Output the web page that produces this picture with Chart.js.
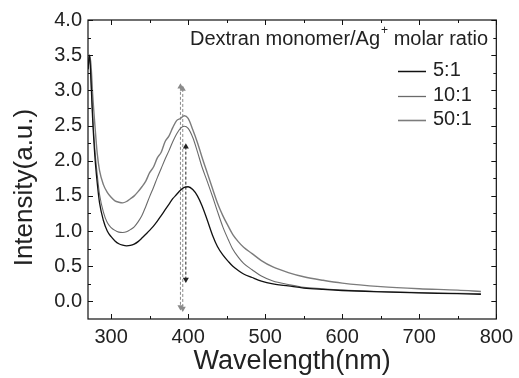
<!DOCTYPE html>
<html>
<head>
<meta charset="utf-8">
<script src="https://cdn.jsdelivr.net/npm/chart.js@4.4.0/dist/chart.umd.min.js"></script>
<style>
  body { margin: 0; background: #fff; }
  #wrap { width: 519px; height: 378px; }
</style>
</head>
<body>
<div id="wrap"><canvas id="myChart" width="519" height="378"></canvas></div>
<script>
// wavelength (nm)
const wavelength = [270, 272, 274, 276, 279, 282, 285, 290, 295, 300, 305, 310, 315, 320, 325, 330, 335, 340, 345, 350,
    355, 360, 365, 370, 375, 380, 385, 390, 395, 400, 406, 412, 418, 425, 432, 438, 445, 452, 458, 465,
    472, 483, 495, 510, 530, 550, 575, 600, 650, 700, 750, 780]

const ratio5 = [3.30, 3.50, 3.10, 2.60, 2.05, 1.68, 1.40, 1.15, 1.00, 0.92, 0.86, 0.82, 0.80, 0.79, 0.795, 0.815, 0.85, 0.90, 0.955, 1.01,
    1.07, 1.14, 1.22, 1.30, 1.38, 1.46, 1.52, 1.58, 1.62, 1.63, 1.59, 1.50, 1.36, 1.15, 0.93, 0.78, 0.66, 0.57, 0.50, 0.44,
    0.39, 0.34, 0.29, 0.25, 0.22, 0.19, 0.17, 0.155, 0.135, 0.12, 0.11, 0.10]

const ratio10 = [3.30, 3.50, 3.15, 2.65, 2.15, 1.80, 1.52, 1.27, 1.12, 1.05, 1.01, 0.985, 0.98, 0.99, 1.02, 1.06, 1.13, 1.22, 1.35, 1.49,
    1.62, 1.76, 1.89, 2.02, 2.14, 2.27, 2.38, 2.46, 2.49, 2.46, 2.33, 2.13, 1.91, 1.70, 1.48, 1.28, 1.06, 0.88, 0.74, 0.63,
    0.54, 0.45, 0.36, 0.29, 0.24, 0.20, 0.18, 0.16, 0.14, 0.125, 0.115, 0.11]

const ratio50 = [3.30, 3.50, 3.35, 2.95, 2.50, 2.10, 1.86, 1.66, 1.55, 1.48, 1.43, 1.41, 1.40, 1.42, 1.46, 1.50, 1.56, 1.63, 1.71, 1.83,
    1.91, 2.04, 2.12, 2.27, 2.35, 2.47, 2.57, 2.60, 2.64, 2.60, 2.44, 2.26, 2.05, 1.82, 1.59, 1.40, 1.22, 1.07, 0.95, 0.85,
    0.77, 0.68, 0.58, 0.49, 0.41, 0.35, 0.30, 0.26, 0.21, 0.18, 0.16, 0.14]

const seriesNames = ['5:1', '10:1', '50:1']

// dashed arrows
const arrowX = [390, 393, 397]
const arrowTop = [3.05, 3.02, 2.2]
const arrowBottom = [-0.08, -0.1, 0.31]

const xTicks = [300, 400, 500, 600, 700, 800]
const yTicks = [0.0, 0.5, 1.0, 1.5, 2.0, 2.5, 3.0, 3.5, 4.0]

const FONT = "'Liberation Sans', Arial, sans-serif"

function pts(ys) {
    return wavelength.map((x, i) => ({ x: x, y: ys[i] }))
}

const lineColors = ['#111', '#6a6a6a', '#7c7c7c']
const lineWidths = [1.3, 1.1, 1.4]

const datasets = [ratio5, ratio10, ratio50].map((ys, i) => ({
    label: seriesNames[i],
    data: pts(ys),
    borderColor: lineColors[i],
    borderWidth: lineWidths[i],
    pointRadius: 0,
    cubicInterpolationMode: 'monotone',
    fill: false
}))

const arrowColors = ['#8a8a8a', '#8a8a8a', '#222']
for (let i = 0; i < arrowX.length; i++) {
    datasets.push({
        label: 'arrow' + i,
        data: [{ x: arrowX[i], y: arrowTop[i] }, { x: arrowX[i], y: arrowBottom[i] }],
        borderColor: arrowColors[i],
        backgroundColor: arrowColors[i],
        borderWidth: 1,
        borderDash: [3, 2],
        pointStyle: 'triangle',
        pointRadius: 3.5,
        pointRotation: [0, 180],
        pointBorderWidth: 0,
        tension: 0
    })
}

// box, inward ticks and legend text
const framePlugin = {
    id: 'frame',
    afterDatasetsDraw(chart) {
        const ctx = chart.ctx
        const a = chart.chartArea
        const xs = chart.scales.x
        const ys = chart.scales.y
        ctx.save()
        ctx.strokeStyle = '#111'
        ctx.lineWidth = 1.2
        ctx.strokeRect(a.left, a.top, a.right - a.left, a.bottom - a.top)

        ctx.lineWidth = 1
        ctx.beginPath()
        for (let v = 300; v <= 800; v += 50) {
            const px = Math.round(xs.getPixelForValue(v)) + 0.5
            const len = v % 100 === 0 ? 5 : 3
            ctx.moveTo(px, a.bottom); ctx.lineTo(px, a.bottom - len)
            ctx.moveTo(px, a.top); ctx.lineTo(px, a.top + len)
        }
        for (let v = 0; v <= 4.0001; v += 0.25) {
            const py = Math.round(ys.getPixelForValue(v)) + 0.5
            const len = Math.abs(v * 2 - Math.round(v * 2)) < 0.01 ? 5 : 3
            ctx.moveTo(a.left, py); ctx.lineTo(a.left + len, py)
            ctx.moveTo(a.right, py); ctx.lineTo(a.right - len, py)
        }
        ctx.stroke()

        // legend
        ctx.fillStyle = '#222'
        ctx.textBaseline = 'middle'
        ctx.textAlign = 'left'
        ctx.font = '20px ' + FONT
        let tx = 190
        const part1 = 'Dextran monomer/Ag'
        ctx.fillText(part1, tx, 39)
        tx += ctx.measureText(part1).width
        ctx.font = '12px ' + FONT
        ctx.fillText('+', tx + 1, 31)
        tx += ctx.measureText('+').width + 1
        ctx.font = '20px ' + FONT
        ctx.fillText(' molar ratio', tx, 39)

        const ly = [70, 95, 119]
        for (let i = 0; i < 3; i++) {
            ctx.strokeStyle = lineColors[i]
            ctx.lineWidth = lineWidths[i] + 0.2
            ctx.beginPath()
            ctx.moveTo(398, ly[i] + 1.5)
            ctx.lineTo(426, ly[i] + 1.5)
            ctx.stroke()
            ctx.fillText(seriesNames[i], 433, ly[i])
        }
        ctx.restore()
    }
}

const ctx = document.getElementById('myChart').getContext('2d')
const myChart = new Chart(ctx, {
    type: 'line',
    data: { datasets: datasets },
    options: {
        responsive: false,
        animation: false,
        layout: { padding: { top: 20, right: 17, left: 0, bottom: 0 } },
        plugins: {
            legend: { display: false },
            tooltip: { enabled: false }
        },
        scales: {
            x: {
                type: 'linear',
                min: 270,
                max: 800,
                afterBuildTicks: (scale) => { scale.ticks = xTicks.map(v => ({ value: v })) },
                afterFit: (scale) => { scale.height = 59 },
                grid: { display: false, drawTicks: false },
                border: { display: false },
                ticks: {
                    padding: 6,
                    color: '#222',
                    font: { family: FONT, size: 20 },
                    maxRotation: 0
                },
                title: {
                    display: true,
                    text: 'Wavelength(nm)',
                    color: '#222',
                    font: { family: FONT, size: 27 },
                    padding: { top: 0, bottom: 0 }
                }
            },
            y: {
                type: 'linear',
                min: -0.25,
                max: 4.0,
                afterBuildTicks: (scale) => { scale.ticks = yTicks.map(v => ({ value: v })) },
                afterFit: (scale) => { scale.width = 88 },
                grid: { display: false, drawTicks: false },
                border: { display: false },
                ticks: {
                    padding: 6,
                    color: '#222',
                    font: { family: FONT, size: 20 },
                    callback: (v) => v.toFixed(1)
                },
                title: {
                    display: true,
                    // trailing spaces push the rotated title down a little, as in the original
                    text: 'Intensity(a.u.)     ',
                    color: '#222',
                    font: { family: FONT, size: 26 },
                    padding: { top: 9, bottom: 0 }
                }
            }
        }
    },
    plugins: [framePlugin]
})
</script>
</body>
</html>
